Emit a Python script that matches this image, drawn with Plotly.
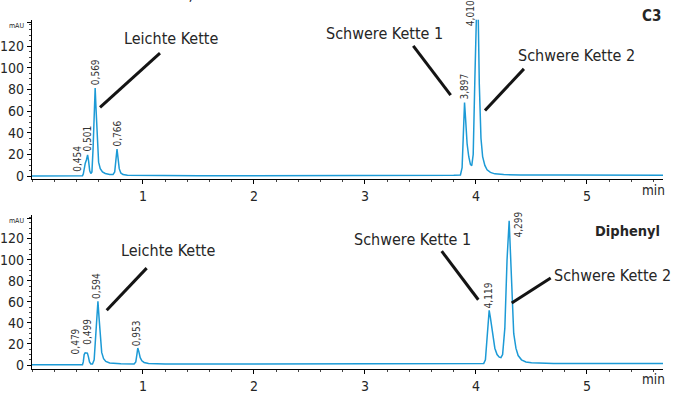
import plotly.graph_objects as go

# ---------------- data ----------------
# C3 chromatogram: retention time [min] and absorbance [mAU]
t_c3 = [0.00, 0.20, 0.40, 0.455, 0.462, 0.470, 0.480, 0.490, 0.501, 0.510, 0.520, 0.530,
        0.540, 0.550, 0.560, 0.569, 0.578, 0.588, 0.600, 0.615, 0.635, 0.660, 0.700, 0.730,
        0.745, 0.755, 0.766, 0.776, 0.786, 0.800, 0.820, 0.860, 1.00, 1.50, 2.00, 2.50,
        3.00, 3.50, 3.80, 3.860, 3.875, 3.885, 3.897, 3.907, 3.920, 3.935, 3.950, 3.962,
        3.975, 3.990, 4.000, 4.010, 4.020, 4.030, 4.045, 4.060, 4.080, 4.100, 4.130, 4.170,
        4.25, 4.40, 4.80, 5.20, 5.685]
y_c3 = [0.3, 0.4, 0.3, 0.5, 2.0, 9.0, 12.0, 15.0, 19.7, 14.0, 5.0, 2.5,
        4.0, 25.0, 60.0, 81.5, 60.0, 30.0, 13.0, 7.0, 4.0, 2.5, 1.5, 1.5,
        4.0, 14.0, 25.0, 16.0, 7.0, 3.0, 1.5, 0.8, 0.6, 0.5, 0.5, 0.5,
        0.6, 0.8, 1.0, 1.2, 8.0, 35.0, 68.0, 52.0, 30.0, 18.0, 11.0, 9.7,
        20.0, 90.0, 150.0, 172.0, 150.0, 85.0, 35.0, 18.0, 10.0, 6.0, 3.5, 2.2,
        1.5, 1.2, 1.2, 1.1, 1.0]

# Diphenyl chromatogram
t_dp = [0.00, 0.20, 0.40, 0.455, 0.462, 0.470, 0.479, 0.490, 0.499, 0.508, 0.518, 0.530,
        0.545, 0.560, 0.572, 0.583, 0.594, 0.604, 0.615, 0.628, 0.645, 0.665, 0.700, 0.800,
        0.920, 0.935, 0.945, 0.953, 0.962, 0.975, 0.990, 1.010, 1.050, 1.20, 1.50, 2.00,
        2.50, 3.00, 3.50, 4.00, 4.070, 4.085, 4.100, 4.119, 4.130, 4.150, 4.170, 4.190,
        4.210, 4.225, 4.240, 4.260, 4.280, 4.299, 4.310, 4.325, 4.340, 4.360, 4.380, 4.410,
        4.450, 4.500, 4.70, 5.00, 5.685]
y_dp = [0.2, 0.3, 0.3, 0.3, 3.0, 10.0, 11.6, 11.8, 11.3, 8.0, 3.0, 1.0,
        1.0, 5.0, 25.0, 50.0, 60.5, 45.0, 25.0, 12.0, 6.0, 3.5, 2.0, 1.2,
        1.0, 3.0, 10.0, 16.2, 13.0, 7.0, 4.0, 2.5, 1.5, 1.0, 1.0, 1.0,
        1.2, 1.3, 1.3, 1.5, 1.6, 5.0, 30.0, 52.0, 45.0, 28.0, 16.0, 10.0,
        7.5, 7.0, 10.0, 35.0, 100.0, 137.0, 110.0, 60.0, 30.0, 16.0, 9.0, 5.0,
        3.0, 2.2, 1.6, 1.5, 1.5]

peak_labels_c3 = ["0,454", "0,501", "0,569", "0,766", "3,897", "4,010"]
peak_labels_dp = ["0,479", "0,499", "0,594", "0,953", "4,119", "4,299"]

y_tick_vals = [0, 20, 40, 60, 80, 100, 120]
x_tick_vals = [1, 2, 3, 4, 5]

# ---------------- styling / layout ----------------
W, H = 673, 394
FONT = "DejaVu Sans Condensed, Liberation Sans Narrow, sans-serif"
LINE_COLOR = "#1c9ad6"
TXT = "#262626"

X0, X1 = 32, 663
X_RANGE = [0, 5.685]


def ydom(top_px, bot_px):
    return [1 - bot_px / H, 1 - top_px / H]


top_dom = ydom(20, 181.7)
bot_dom = ydom(218.3, 375)

fig = go.Figure()
fig.add_trace(go.Scatter(x=t_c3, y=y_c3, mode="lines", xaxis="x", yaxis="y",
                         line=dict(color=LINE_COLOR, width=1.5), showlegend=False))
fig.add_trace(go.Scatter(x=t_dp, y=y_dp, mode="lines", xaxis="x2", yaxis="y2",
                         line=dict(color=LINE_COLOR, width=1.5), showlegend=False))

mau = "<span style='font-size:7px'>mAU</span>"


def xaxis_cfg(anchor):
    return dict(domain=[X0 / W, X1 / W], range=X_RANGE, anchor=anchor,
                showline=True, linecolor="black", linewidth=1.3,
                showgrid=False, zeroline=False,
                tickmode="array", tickvals=x_tick_vals,
                ticktext=[str(v) for v in x_tick_vals],
                ticks="outside", ticklen=4, tickwidth=1, tickcolor="black",
                tickfont=dict(family=FONT, size=14, color=TXT),
                minor=dict(dtick=0.2, ticks="outside", ticklen=2, tickwidth=1,
                           tickcolor="#444"))


def yaxis_cfg(anchor, dom, rng, mau_pos):
    return dict(domain=dom, range=rng, anchor=anchor,
                showline=True, linecolor="black", linewidth=1.3,
                showgrid=False, zeroline=False,
                tickmode="array", tickvals=y_tick_vals + [mau_pos],
                ticktext=[str(v) for v in y_tick_vals] + [mau],
                ticks="outside", ticklen=4, tickwidth=1, tickcolor="black",
                tickfont=dict(family=FONT, size=14, color=TXT),
                minor=dict(dtick=5, ticks="outside", ticklen=2, tickwidth=1,
                           tickcolor="#444"))


fig.update_layout(
    width=W, height=H,
    margin=dict(l=0, r=0, t=0, b=0),
    paper_bgcolor="white", plot_bgcolor="white",
    xaxis=xaxis_cfg("y"),
    yaxis=yaxis_cfg("x", top_dom, [-2.5, 144.5], 141.5),
    xaxis2=xaxis_cfg("y2"),
    yaxis2=yaxis_cfg("x2", bot_dom, [-4, 142.4], 139),
)

ann = []


def txt(text, x, y, xref, yref, size, bold=False, angle=0, xanchor="center",
        yanchor="middle", color=TXT):
    if bold:
        text = "<b>" + text + "</b>"
    ann.append(dict(text=text, x=x, y=y, xref=xref, yref=yref, showarrow=False,
                    textangle=angle, xanchor=xanchor, yanchor=yanchor,
                    font=dict(family=FONT, size=size, color=color)))


# peak labels (top)
pos_c3 = [(0.403, 15.9, "y"), (0.498, 35.0, "y"), (0.568, 96.1, "y"),
          (0.768, 39.7, "y"), (3.898, 82.5, "y"), (3.946, 1.041, "y domain")]
for lab, (px, py, yr) in zip(peak_labels_c3, pos_c3):
    txt(lab, px, py, "x", yr, 10, angle=-90, color="#333")

pos_dp = [(0.396, 22.4), (0.498, 31.8), (0.583, 74.8), (0.943, 29.9),
          (4.111, 66.4), (4.381, 133.6)]
for lab, (px, py) in zip(peak_labels_dp, pos_dp):
    txt(lab, px, py, "x2", "y2", 10, angle=-90, color="#333")

# callout texts
txt("Leichte Kette", 1.248, 127.3, "x", "y", 16)
txt("Schwere Kette 1", 3.180, 131.8, "x", "y", 16)
txt("Schwere Kette 2", 4.905, 111.2, "x", "y", 16)
txt("Leichte Kette", 1.225, 108.8, "x2", "y2", 16)
txt("Schwere Kette 1", 3.428, 119.6, "x2", "y2", 16)
txt("Schwere Kette 2", 5.230, 84.8, "x2", "y2", 16)

txt("C3", 663 / W, 1 - 16.7 / H, "paper", "paper", 15, bold=True, xanchor="right")
txt("Diphenyl", 662 / W, 1 - 235 / H, "paper", "paper", 14.5, bold=True, xanchor="right")

# "min" unit labels
txt("min", 653 / W, 1 - 193 / H, "paper", "paper", 13.5)
txt("min", 653 / W, 1 - 385 / H, "paper", "paper", 13.5)

# header text cut off at the top edge
txt("Detektion:", 12 / W, 1.0 - 6 / H, "paper", "paper", 16, xanchor="left", yanchor="bottom")
txt("UV, 280 nm", 166 / W, 1.0 - 6 / H, "paper", "paper", 16, xanchor="left", yanchor="bottom")

fig.update_layout(annotations=ann)

# callout leader lines
shapes = []
lines = [("x", "y", 1.153, 113.6, 0.613, 63.6),
         ("x", "y", 3.435, 120.3, 3.772, 74.8),
         ("x", "y", 4.432, 99.1, 4.081, 60.6),
         ("x2", "y2", 1.033, 92.0, 0.673, 52.0),
         ("x2", "y2", 3.691, 108.1, 4.021, 62.0),
         ("x2", "y2", 4.673, 82.6, 4.322, 58.9)]
for xr, yr, xa, ya, xb, yb in lines:
    shapes.append(dict(type="line", xref=xr, yref=yr, x0=xa, y0=ya, x1=xb, y1=yb,
                       line=dict(color="#141414", width=3)))
fig.update_layout(shapes=shapes)

fig.write_html("out.html")
